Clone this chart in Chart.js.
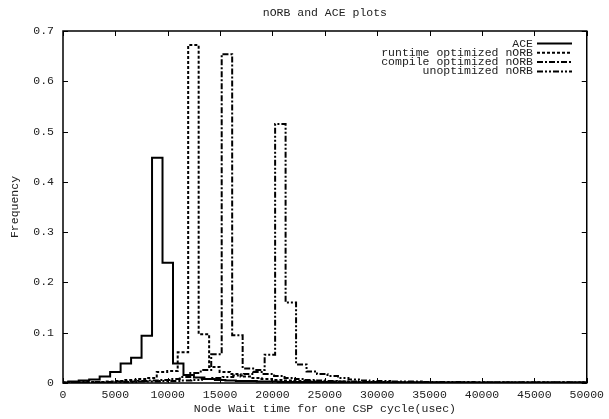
<!DOCTYPE html>
<html>
<head>
<meta charset="utf-8">
<title>nORB and ACE plots</title>
<script src="https://cdn.jsdelivr.net/npm/chart.js@4.4.1/dist/chart.umd.min.js"></script>
<style>
    html, body { margin: 0; padding: 0; background: #fff; }
    #plot { display: block; }
</style>
</head>
<body>
<canvas id="plot" width="609" height="419"></canvas>
<script>
// ── DATA ──────────────────────────────────────────────────────
// histogram bins are 1000 usec wide, each series has its own first bin centre
const binWidth = 1000;

const aceStart = -1000;
const aceFreq = [
    0.000, 0.001, 0.003, 0.005, 0.007, 0.013, 0.022, 0.039, 0.050, 0.094,
    0.448, 0.239, 0.039, 0.016, 0.011, 0.008, 0.006, 0.005, 0.004, 0.004,
    0.003, 0.003, 0.002, 0.002, 0.002, 0.002, 0.002, 0.001, 0.001, 0.001,
    0.001, 0.001, 0.001, 0.001, 0.001, 0.001, 0.001, 0.001, 0.001, 0.001,
    0.001, 0.001, 0.001, 0.001, 0.001, 0.001, 0.001, 0.001, 0.001, 0.001,
    0.001, 0.001
];

const runtimeStart = -550;
const runtimeFreq = [
    0.000, 0.001, 0.001, 0.002, 0.002, 0.003, 0.004, 0.006, 0.008, 0.010,
    0.022, 0.024, 0.061, 0.672, 0.097, 0.032, 0.022, 0.018, 0.013, 0.010,
    0.008, 0.006, 0.005, 0.004, 0.004, 0.003, 0.003, 0.003, 0.002, 0.002,
    0.002, 0.002, 0.002, 0.001, 0.001, 0.001, 0.001, 0.001, 0.001, 0.001,
    0.001, 0.001, 0.001, 0.001, 0.001, 0.001, 0.001, 0.001, 0.001, 0.001,
    0.001, 0.001
];

const compileStart = -350;
const compileFreq = [
    0.000, 0.001, 0.001, 0.001, 0.002, 0.002, 0.003, 0.003, 0.004, 0.005,
    0.006, 0.008, 0.012, 0.020, 0.026, 0.057, 0.654, 0.095, 0.029, 0.022,
    0.018, 0.014, 0.010, 0.008, 0.006, 0.005, 0.004, 0.003, 0.003, 0.002,
    0.002, 0.002, 0.001, 0.001, 0.001, 0.001, 0.001, 0.001, 0.001, 0.001,
    0.001, 0.001, 0.001, 0.001, 0.001, 0.001, 0.001, 0.001, 0.001, 0.001,
    0.001, 0.001
];

const unoptStart = -250;
const unoptFreq = [
    0.000, 0.001, 0.001, 0.001, 0.001, 0.002, 0.002, 0.002, 0.003, 0.003,
    0.004, 0.004, 0.005, 0.006, 0.008, 0.010, 0.012, 0.015, 0.018, 0.026,
    0.056, 0.515, 0.160, 0.037, 0.023, 0.018, 0.014, 0.010, 0.007, 0.005,
    0.004, 0.004, 0.003, 0.003, 0.003, 0.002, 0.002, 0.002, 0.002, 0.002,
    0.001, 0.001, 0.001, 0.001, 0.001, 0.001, 0.001, 0.001, 0.001, 0.001,
    0.001, 0.001
];

const seriesNames = ['ACE', 'runtime optimized nORB', 'compile optimized nORB', 'unoptimized nORB'];
const seriesDash = [[], [3, 2], [6, 2, 2, 2], [6, 2, 2, 2, 2, 2]];

const xTicks = [0, 5000, 10000, 15000, 20000, 25000, 30000, 35000, 40000, 45000, 50000];
const yTicks = [0, 0.1, 0.2, 0.3, 0.4, 0.5, 0.6, 0.7];

const FONT = '"Liberation Mono", "DejaVu Sans Mono", monospace';
const TEXT = '#222';

function toPoints(start, freq) {
    return freq.map((f, i) => ({ x: start + i * binWidth, y: f }));
}

// ── FRAME, TITLE, KEY ─────────────────────────────────────────
const gnuplotLook = {
    id: 'gnuplotLook',
    beforeDatasetsDraw(chart) {
        const { ctx, chartArea: a, scales: { x, y } } = chart;
        ctx.save();
        ctx.strokeStyle = '#000';
        ctx.lineWidth = 1;
        ctx.beginPath();
        xTicks.forEach(v => {
            const px = Math.round(x.getPixelForValue(v)) + 0.5;
            ctx.moveTo(px, a.bottom); ctx.lineTo(px, a.bottom - 5);
            ctx.moveTo(px, a.top);    ctx.lineTo(px, a.top + 5);
        });
        yTicks.forEach(v => {
            const py = Math.round(y.getPixelForValue(v)) + 0.5;
            ctx.moveTo(a.left, py);  ctx.lineTo(a.left + 5, py);
            ctx.moveTo(a.right, py); ctx.lineTo(a.right - 5, py);
        });
        ctx.stroke();
        ctx.lineWidth = 1.5;
        ctx.strokeRect(a.left, a.top, a.right - a.left, a.bottom - a.top);
        ctx.restore();
    },
    afterDraw(chart) {
        const { ctx, chartArea: a } = chart;
        ctx.save();
        ctx.fillStyle = TEXT;
        ctx.font = '11.5px ' + FONT;
        ctx.textBaseline = 'middle';

        ctx.textAlign = 'center';
        ctx.fillText('nORB and ACE plots', (a.left + a.right) / 2, 13);

        // key, top right inside the frame
        ctx.textAlign = 'right';
        chart.data.datasets.forEach((ds, i) => {
            const ky = 43.5 + i * 9.3;
            ctx.fillText(ds.label, 533, ky);
            ctx.beginPath();
            ctx.strokeStyle = '#000';
            ctx.lineWidth = ds.borderWidth;
            ctx.setLineDash(ds.borderDash);
            ctx.moveTo(537, ky);
            ctx.lineTo(572, ky);
            ctx.stroke();
        });
        ctx.restore();
    }
};

// ── CHART ─────────────────────────────────────────────────────
const starts = [aceStart, runtimeStart, compileStart, unoptStart];
const freqs = [aceFreq, runtimeFreq, compileFreq, unoptFreq];

new Chart(document.getElementById('plot'), {
    type: 'line',
    data: {
        datasets: seriesNames.map((name, i) => ({
            label: name,
            data: toPoints(starts[i], freqs[i]),
            borderColor: '#000',
            borderWidth: 2,
            borderDash: seriesDash[i],
            stepped: 'middle',
            pointRadius: 0,
            fill: false
        }))
    },
    options: {
        responsive: false,
        animation: false,
        devicePixelRatio: 1,
        layout: { padding: { left: 0, right: 22, top: 31, bottom: 0 } },
        plugins: {
            legend: { display: false },
            title: { display: false },
            tooltip: { enabled: false }
        },
        scales: {
            x: {
                type: 'linear',
                min: 0,
                max: 50000,
                afterBuildTicks: s => { s.ticks = xTicks.map(v => ({ value: v })); },
                afterFit: s => { s.height = 36; },
                grid: { display: false, drawTicks: false },
                border: { display: false },
                ticks: {
                    color: TEXT,
                    font: { family: FONT, size: 11.5 },
                    padding: 5,
                    maxRotation: 0,
                    autoSkip: false,
                    callback: v => String(v)
                },
                title: {
                    display: true,
                    text: 'Node Wait time for one CSP cycle(usec)',
                    color: TEXT,
                    font: { family: FONT, size: 11.5 },
                    padding: { top: 0, bottom: 3 }
                }
            },
            y: {
                type: 'linear',
                min: 0,
                max: 0.7,
                afterBuildTicks: s => { s.ticks = yTicks.map(v => ({ value: v })); },
                afterFit: s => { s.width = 63; },
                grid: { display: false, drawTicks: false },
                border: { display: false },
                ticks: {
                    color: TEXT,
                    font: { family: FONT, size: 11.5 },
                    padding: 9,
                    autoSkip: false,
                    callback: v => v === 0 ? '0' : v.toFixed(1)
                },
                title: {
                    display: true,
                    text: 'Frequency',
                    color: TEXT,
                    font: { family: FONT, size: 11.5 },
                    padding: { top: 8, bottom: 0 }
                }
            }
        }
    },
    plugins: [gnuplotLook]
});
</script>
</body>
</html>
